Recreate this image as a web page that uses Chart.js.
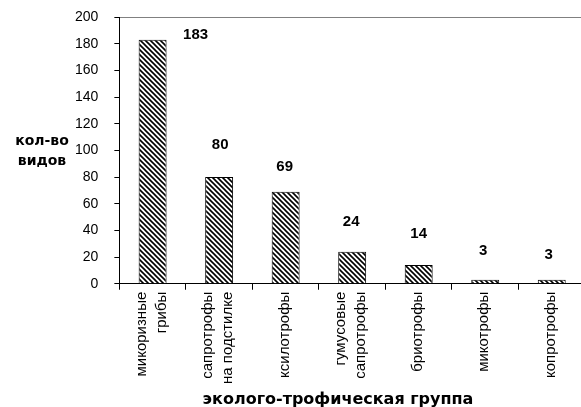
<!DOCTYPE html>
<html>
<head>
<meta charset="utf-8">
<script src="https://cdn.jsdelivr.net/npm/chart.js@4/dist/chart.umd.min.js"></script>
<style>
    html, body { margin: 0; padding: 0; background: #fff; overflow: hidden; }
    #wrap { width: 587px; height: 407px; }
</style>
</head>
<body>
<div id="wrap"><canvas id="chart"></canvas></div>
<script>
const groups = [
    ['микоризные', 'грибы'],
    ['сапротрофы', 'на подстилке'],
    'ксилотрофы',
    ['гумусовые', 'сапротрофы'],
    'бриотрофы',
    'микотрофы',
    'копротрофы'
];
const speciesCount = [183, 80, 69, 24, 14, 3, 3];
const yTicks = [0, 20, 40, 60, 80, 100, 120, 140, 160, 180, 200];

const yTitle = ['кол-во', 'видов'];
const xTitle = 'эколого-трофическая группа';

const boldFont = '"DejaVu Sans", "Liberation Sans", sans-serif';
const plainFont = '"Liberation Sans", Arial, sans-serif';

// hatch pattern like the excel one (\\\\)
function makeHatch () {
    const size = 5;
    const c = document.createElement('canvas');
    c.width = size;
    c.height = size;
    const ctx = c.getContext('2d');
    ctx.fillStyle = '#fff';
    ctx.fillRect(0, 0, size, size);
    ctx.strokeStyle = '#000';
    ctx.lineWidth = 1.6;
    ctx.beginPath();
    ctx.moveTo(-1, -1); ctx.lineTo(size + 1, size + 1);
    ctx.moveTo(-1, size - 1); ctx.lineTo(1, size + 1);
    ctx.moveTo(size - 1, -1); ctx.lineTo(size + 1, 1);
    ctx.stroke();
    return ctx.createPattern(c, 'repeat');
}

// value labels, placed by hand in the original
const labelOffsets = [[43, 5], [1, 32], [-1, 25], [-1, 30], [0, 31], [-2, 29], [-3, 25]];

const valueLabels = {
    id: 'valueLabels',
    afterDatasetsDraw (chart) {
        const ctx = chart.ctx;
        const meta = chart.getDatasetMeta(0);
        ctx.save();
        ctx.font = 'bold 15px ' + plainFont;
        ctx.fillStyle = '#000';
        ctx.textAlign = 'center';
        ctx.textBaseline = 'middle';
        meta.data.forEach((bar, i) => {
            const off = labelOffsets[i];
            ctx.fillText(String(speciesCount[i]), bar.x + off[0], bar.y - off[1]);
        });
        ctx.restore();
    }
};

// titles and rotated category labels, drawn by hand so that
// two-line labels sit centred on their tick like in excel
const handText = {
    id: 'handText',
    afterDraw (chart) {
        const ctx = chart.ctx;
        const xScale = chart.scales.x;
        ctx.save();
        ctx.fillStyle = '#000';

        ctx.font = 'bold 14px ' + boldFont;
        ctx.textAlign = 'center';
        ctx.textBaseline = 'middle';
        ctx.fillText(yTitle[0], 42, 141);
        ctx.fillText(yTitle[1], 42, 161);

        ctx.font = 'bold 16px ' + boldFont;
        ctx.fillText(xTitle, 338, 400);

        ctx.font = '15px ' + plainFont;
        ctx.textAlign = 'right';
        const lh = 20;
        groups.forEach((label, i) => {
            const lines = Array.isArray(label) ? label : [label];
            ctx.save();
            ctx.translate(xScale.getPixelForTick(i) - 1, xScale.top + 8);
            ctx.rotate(-Math.PI / 2);
            lines.forEach((line, j) => {
                ctx.fillText(line, 0, (j - (lines.length - 1) / 2) * lh);
            });
            ctx.restore();
        });
        ctx.restore();
    }
};

new Chart(document.getElementById('chart'), {
    type: 'bar',
    data: {
        labels: groups,
        datasets: [
            {
                data: speciesCount,
                backgroundColor: makeHatch(),
                borderColor: '#000',
                borderWidth: 1,
                borderSkipped: 'bottom',
                categoryPercentage: 1,
                barPercentage: 0.42
            }
        ]
    },
    options: {
        responsive: true,
        maintainAspectRatio: false,
        animation: false,
        layout: {
            padding: { left: 59, top: 17, right: 2, bottom: 0 }
        },
        plugins: {
            legend: { display: false },
            tooltip: { enabled: false }
        },
        scales: {
            x: {
                grid: {
                    offset: true,
                    drawOnChartArea: false,
                    tickLength: 6,
                    tickColor: '#000'
                },
                border: { color: '#000', width: 1 },
                // labels only keep the room, the plugin draws them
                ticks: {
                    minRotation: 90,
                    maxRotation: 90,
                    padding: 2,
                    color: 'transparent',
                    font: { family: plainFont, size: 15, lineHeight: 1.25 }
                },
                title: {
                    display: true,
                    text: xTitle,
                    color: 'transparent',
                    font: { family: boldFont, size: 15, weight: 'bold', lineHeight: 1.2 },
                    padding: { top: 3, bottom: 0 }
                }
            },
            y: {
                min: 0,
                max: 200,
                afterBuildTicks (scale) {
                    scale.ticks = yTicks.map(v => ({ value: v }));
                },
                afterFit (scale) {
                    scale.paddingTop = 0;
                    scale.paddingBottom = 0;
                },
                grid: {
                    color: ctx => (ctx.tick && ctx.tick.value === 200 ? '#808080' : 'transparent'),
                    tickColor: '#000',
                    tickLength: 5
                },
                border: { color: '#000', width: 1 },
                ticks: {
                    padding: 16,
                    color: '#000',
                    font: { family: plainFont, size: 14 }
                }
            }
        }
    },
    plugins: [valueLabels, handText]
});
</script>
</body>
</html>
